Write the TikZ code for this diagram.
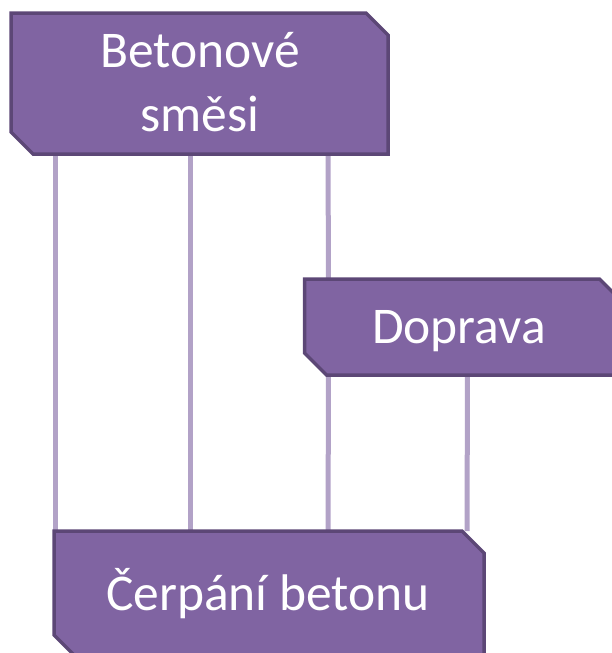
\documentclass[tikz,border=0pt]{standalone}
\usepackage{fontspec}
\setmainfont{Carlito}
\usetikzlibrary{backgrounds}
\pgfdeclarelayer{lines}
\pgfdeclarelayer{boxes}
\pgfsetlayers{lines,boxes,main}
\definecolor{boxfill}{HTML}{8064A2}
\definecolor{boxline}{HTML}{5C4776}
\definecolor{connline}{HTML}{B2A2C7}
\tikzset{
  boxnode/.style={rectangle, inner sep=0pt, outer sep=0pt},
  boxpaint/.style={fill=boxfill, draw=boxline, line width=3.5pt, line join=miter},
  conn/.style={draw=connline, line width=5pt},
  txt/.style={text=white, font=\fontsize{51.5}{63}\selectfont, inner sep=0pt}
}
\newcommand\chambox[2]{%
  \begin{pgfonlayer}{boxes}
  \path[boxpaint] (#1.north west) -- ([xshift=-#2]#1.north east) -- ([yshift=-#2]#1.north east)
    -- (#1.south east) -- ([xshift=#2]#1.south west) -- ([yshift=#2]#1.south west) -- cycle;
  \end{pgfonlayer}}
\begin{document}
\begin{tikzpicture}[x=1pt,y=-1pt]
\useasboundingbox (0,0) rectangle (611,653);
\clip (0,0) rectangle (611,653);
% box nodes
\node[boxnode, minimum width=377pt, minimum height=141pt] (b1) at (199.5,83.5) {};
\node[boxnode, minimum width=317pt, minimum height=96pt] (b2) at (463,327) {};
\node[boxnode, minimum width=430pt, minimum height=126pt] (b3) at (269,594) {};
\chambox{b1}{22pt}
\chambox{b2}{22pt}
\chambox{b3}{22pt}
% texts
\node[txt, anchor=base] (t1) at (200,67) {Betonové};
\node[txt, anchor=base] (t1b) at (200,131) {směsi};
\node[txt, anchor=base] (t2) at (459,343) {Doprava};
\node[txt, anchor=base] (t3) at (268,610) {Čerpání betonu};
% connectors
\begin{pgfonlayer}{lines}
\draw[conn] ([xshift=44pt]b1.south west) -- ([xshift=1pt]b3.north west);
\draw[conn] ([xshift=179pt]b1.south west) -- ([xshift=136pt]b3.north west);
\draw[conn] ([xshift=317pt]b1.south west) -- ([xshift=24pt]b2.north west);
\draw[conn] ([xshift=24pt]b2.south west) -- ([xshift=274pt]b3.north west);
\draw[conn] ([xshift=163pt]b2.south west) -- ([xshift=413pt]b3.north west);
\end{pgfonlayer}
\end{tikzpicture}
\end{document}
